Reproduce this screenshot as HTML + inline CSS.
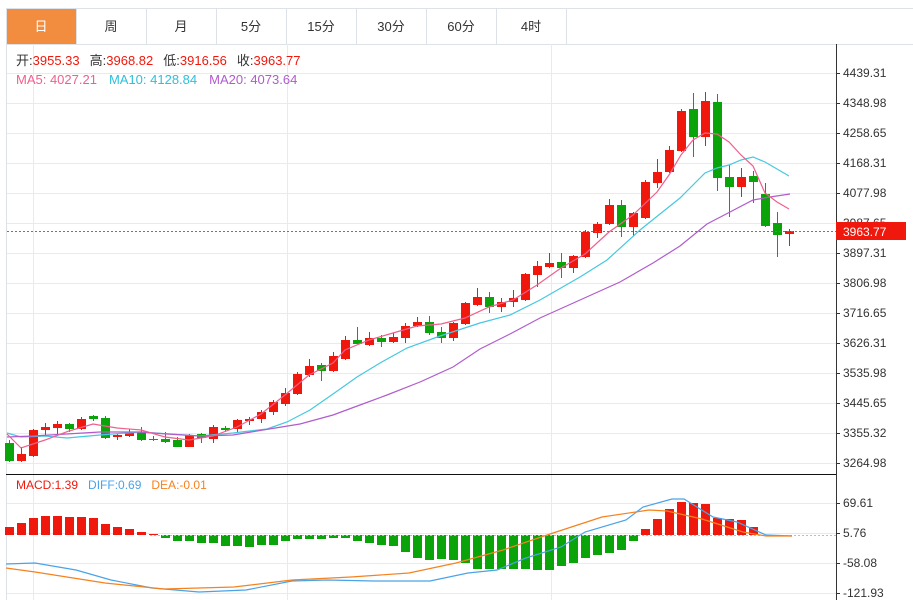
<!DOCTYPE html>
<html><head><meta charset="utf-8"><style>
html,body{margin:0;padding:0;background:#fff;width:913px;height:600px;overflow:hidden}
body{font-family:"Liberation Sans","Noto Sans CJK SC",sans-serif}
svg{position:absolute;left:0;top:0}
</style></head><body>
<svg id="s" width="913" height="600" xmlns="http://www.w3.org/2000/svg" font-family="Liberation Sans, Noto Sans CJK SC, sans-serif"></svg>
<script>
const S=document.getElementById('s');let h='';
// tabs
const tabs=['日','周','月','5分','15分','30分','60分','4时'];
h+='<line x1="6" y1="8.5" x2="913" y2="8.5" stroke="#dde2e8"/>';
h+='<line x1="6" y1="44.5" x2="913" y2="44.5" stroke="#dde2e8"/>';
tabs.forEach((t,i)=>{const x=6+i*70;
 if(i==0)h+=`<rect x="${x+1}" y="9" width="69" height="35" fill="#f28c3e"/>`;
 h+=`<line x1="${x+70.5}" y1="8" x2="${x+70.5}" y2="44" stroke="#dde2e8"/>`;
 h+=`<text x="${x+35}" y="31" font-size="13" text-anchor="middle" fill="${i==0?'#fff':'#333'}">${t}</text>`;});
h+='<line x1="6.5" y1="8" x2="6.5" y2="600" stroke="#dde2e8"/>';
// grids
const py=[73,103,133,163,193,223,253,283,313,343,373,403,433,463];
const pl=['4439.31','4348.98','4258.65','4168.31','4077.98','3987.65','3897.31','3806.98','3716.65','3626.31','3535.98','3445.65','3355.32','3264.98'];
py.forEach((y,i)=>{h+=`<line x1="7" y1="${y+.5}" x2="836" y2="${y+.5}" stroke="#e6ebf0"/><line x1="836" y1="${y+.5}" x2="840" y2="${y+.5}" stroke="#333"/><text x="843" y="${y+4}" font-size="12" fill="#333">${pl[i]}</text>`;});
const my=[503,533,563,593],ml=['69.61','5.76','-58.08','-121.93'];
my.forEach((y,i)=>{h+=`<line x1="7" y1="${y+.5}" x2="836" y2="${y+.5}" stroke="#e6ebf0"/><line x1="836" y1="${y+.5}" x2="840" y2="${y+.5}" stroke="#333"/><text x="843" y="${y+4}" font-size="12" fill="#333">${ml[i]}</text>`;});
[33,287,551].forEach(x=>{h+=`<line x1="${x+.5}" y1="44" x2="${x+.5}" y2="600" stroke="#e6ebf0"/>`;});
h+='<line x1="836.5" y1="44" x2="836.5" y2="600" stroke="#333"/>';
h+='<line x1="6" y1="474.5" x2="836" y2="474.5" stroke="#111"/>';
// candles: [bodyTop, bodyBot, wickTop, wickBot, up(red)]
const C=[[443,461,440,462,0],[454,461,447,462,1],[430,456,429,457,1],[427,430,423,435,1],[424,428,421,435,1],[424,429,423,432,0],[419,429,417,430,1],[416,419,415,421,0],[418,438,416,439,0],[435,437,433,440,1],[432,436,429,437,1],[432,440,427,441,0],[439,440,436,441,0],[439,442,432,443,0],[440,447,437,447,0],[435,447,434,447,1],[434,438,433,443,0],[427,439,425,443,1],[428,430,426,432,0],[420,429,419,433,1],[419,421,417,425,1],[412,419,410,423,1],[402,412,400,415,1],[393,404,388,406,1],[374,394,372,395,1],[366,375,359,377,1],[365,371,363,381,0],[356,371,352,372,1],[340,359,336,360,1],[340,344,327,344,0],[338,345,332,346,1],[338,342,335,347,0],[337,342,333,343,1],[326,338,323,343,1],[322,326,317,327,1],[322,333,316,335,0],[332,338,327,343,0],[323,338,322,341,1],[303,324,302,325,1],[297,305,288,306,1],[297,307,292,313,0],[302,307,298,312,1],[298,302,290,307,1],[274,300,273,301,1],[266,275,261,287,1],[263,267,253,268,1],[262,268,253,278,0],[256,268,255,273,1],[232,257,230,258,1],[224,233,222,238,1],[205,224,199,225,1],[205,227,200,237,0],[213,227,212,236,1],[182,218,180,219,1],[172,183,159,188,1],[150,172,146,173,1],[111,151,109,152,1],[109,137,93,157,0],[101,137,92,146,1],[102,178,94,191,0],[177,187,165,217,0],[177,187,168,197,1],[176,182,171,203,0],[194,226,183,227,0],[223,235,212,257,0],[231,234,229,246,1]];
C.forEach((c,i)=>{const x=9+12*i,col=c[4]?'#f0180c':'#0aa40a';
 h+=`<line x1="${x+.5}" y1="${c[2]}" x2="${x+.5}" y2="${c[3]}" stroke="${col}"/><rect x="${x-4}" y="${c[0]}" width="9" height="${Math.max(1,c[1]-c[0])}" fill="${col}"/>`;});
const pl2=(pts,col)=>`<polyline fill="none" stroke="${col}" stroke-width="1.2" points="${pts.map(p=>p.join(',')).join(' ')}"/>`;
h+=pl2([[7,433],[21,437],[45,436],[67,438],[100,435],[140,432],[170,434],[200,436],[233,433],[267,429],[287,422],[310,410],[333,394],[357,377],[380,363],[407,348],[440,336],[480,323],[510,315],[540,300],[580,277],[607,260],[640,230],[660,214],[680,198],[693,185],[705,173],[717,168],[729,165],[741,160],[753,157],[765,162],[777,169],[789,176]],'#45c8e0');
h+=pl2([[7,437],[33,436],[100,432],[140,432],[167,434],[200,436],[233,435],[263,430],[300,424],[333,415],[360,405],[387,395],[420,382],[453,367],[480,349],[510,334],[540,318],[580,300],[620,282],[653,263],[680,246],[707,224],[730,212],[753,200],[770,197],[790,194]],'#b05ccc');
h+=pl2([[7,434],[21,448],[45,440],[69,431],[93,424],[117,428],[141,430],[165,437],[189,440],[213,436],[237,427],[261,414],[285,395],[309,375],[333,363],[345,350],[369,340],[393,333],[417,326],[441,324],[465,318],[489,307],[513,300],[537,285],[561,268],[585,254],[609,232],[633,215],[657,192],[669,175],[681,155],[693,140],[705,133],[717,134],[729,142],[741,155],[753,166],[765,193],[777,202],[789,209]],'#f0608c');
// current price
h+='<line x1="7" y1="231.5" x2="836" y2="231.5" stroke="#f04040" stroke-dasharray="2,2"/>';
h+='<rect x="836" y="222" width="70" height="18" fill="#f0180c"/><text x="843" y="236" font-size="12" fill="#fff">3963.77</text>';
// legends
h+='<text x="16" y="65" font-size="13"><tspan fill="#333">开:</tspan><tspan fill="#f0180c">3955.33</tspan><tspan fill="#333" dx="10">高:</tspan><tspan fill="#f0180c">3968.82</tspan><tspan fill="#333" dx="10">低:</tspan><tspan fill="#f0180c">3916.56</tspan><tspan fill="#333" dx="10">收:</tspan><tspan fill="#f0180c">3963.77</tspan></text>';
h+='<text x="16" y="84" font-size="13"><tspan fill="#f0608c">MA5: 4027.21</tspan><tspan fill="#2ec0dc" dx="12">MA10: 4128.84</tspan><tspan fill="#b05ccc" dx="12">MA20: 4073.64</tspan></text>';
h+='<text x="16" y="489" font-size="12"><tspan fill="#f0180c">MACD:1.39</tspan><tspan fill="#4aa3e8" dx="10">DIFF:0.69</tspan><tspan fill="#f5821f" dx="10">DEA:-0.01</tspan></text>';
// MACD bars
const z=535;
const R0=[527,523,518,516,516,517,517,518,524,527,529,532,534];
R0.forEach((t,i)=>{const x=9+12*i;h+=`<rect x="${x-4}" y="${t}" width="9" height="${z-t}" fill="#f0180c"/>`;});
const G=[538,541,541,543,543,546,546,547,545,545,541,539,539,539,538,538,541,543,545,546,552,558,560,559,560,563,569,569,569,569,569,570,570,566,563,558,555,553,550,541];
G.forEach((b,i)=>{const x=9+12*(i+13);h+=`<rect x="${x-4}" y="${z}" width="9" height="${b-z}" fill="#0aa40a"/>`;});
const R1=[529,519,509,502,503,504,518,519,520,527];
R1.forEach((t,i)=>{const x=9+12*(i+53);h+=`<rect x="${x-4}" y="${t}" width="9" height="${z-t}" fill="#f0180c"/>`;});
h+='<line x1="150" y1="535.5" x2="836" y2="535.5" stroke="#9cc" stroke-dasharray="2,2"/>';
h+=pl2([[6,564],[35,563],[76,570],[111,580],[152,588],[199,592],[246,590],[292,581],[327,580],[374,581],[430,581],[468,573],[497,570],[526,558],[561,547],[585,532],[626,520],[643,507],[672,499],[684,499],[713,517],[737,522],[766,535],[792,536]],'#4aa3e8');
h+=pl2([[6,568],[35,572],[105,583],[164,589],[234,587],[292,580],[351,577],[409,573],[456,563],[503,550],[550,534],[602,517],[649,510],[667,511],[702,519],[743,532],[766,536],[792,536]],'#f5821f');
S.innerHTML=h;
</script>
</body></html>
